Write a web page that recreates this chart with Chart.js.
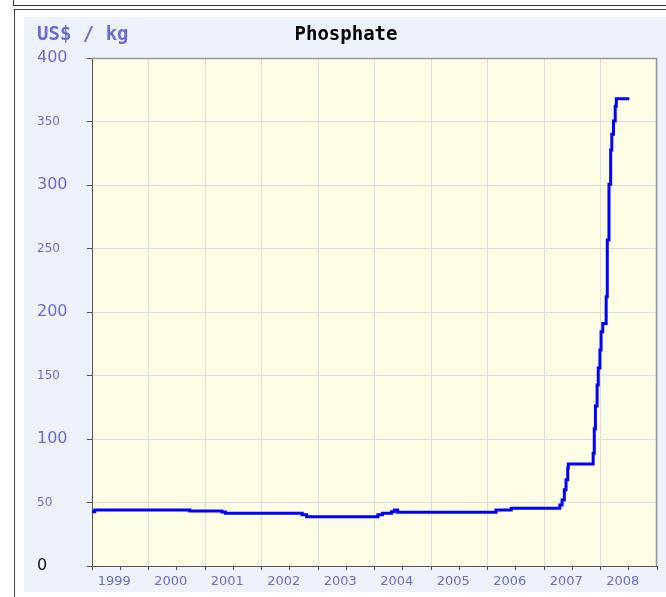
<!DOCTYPE html>
<html><head><meta charset="utf-8">
<script src="https://cdn.jsdelivr.net/npm/chart.js@4"></script>
<style>
html,body{margin:0;padding:0;background:#fff;width:666px;height:597px;overflow:hidden;}
#prev{position:absolute;left:13px;top:-20px;width:720px;height:24px;border:1px solid #333;}
#box{position:absolute;left:14px;top:9px;width:720px;height:700px;border:1px solid #444;}
#wrap{position:absolute;left:24px;top:17px;width:642px;height:575px;background:#EEF2FC;}
canvas{display:block;}
</style></head><body>
<div id="prev"></div><div id="box"></div>
<div id="wrap"><canvas id="c" width="642" height="575"></canvas></div>
<script>
const unitLabel = 'US$ / kg';
const chartTitle = 'Phosphate';
const yearLabels = ['1999','2000','2001','2002','2003','2004','2005','2006','2007','2008'];
const yTickValues = [0,50,100,150,200,250,300,350,400];
// change points (decimal year) and price after change
const dates  = [1999.00,1999.05,2000.73,2001.30,2001.36,2002.72,2002.80,2004.06,2004.14,2004.30,2004.35,2004.41,
                2006.15,2006.42,2007.28,2007.32,2007.36,2007.39,2007.42,2007.43,2007.87,2007.89,2007.91,2007.94,
                2007.96,2007.99,2008.01,2008.04,2008.10,2008.12,2008.15,2008.18,2008.20,2008.23,2008.26,2008.28,2008.51];
const prices = [42.8,44.0,43.3,42.5,41.5,40.4,38.8,40.3,41.5,42.8,44.1,42.4,
                44.1,45.4,48,52,60,68,77,80.3,88.7,108,126,142.5,
                156,170,184.5,191,212,256.7,300.5,327.6,340,350.4,362,368,368];

const AXIS_BLUE = '#6b6bd3';

const framePlugin = {
  id: 'frame',
  beforeDraw(chart) {
    const {ctx, chartArea: a} = chart;
    ctx.save();
    ctx.fillStyle = '#FEFDE6';
    ctx.fillRect(a.left, a.top, a.right - a.left, a.bottom - a.top);
    ctx.restore();
  },
  afterDraw(chart) {
    const {ctx, chartArea: a} = chart;
    ctx.save();
    ctx.strokeStyle = '#999';
    ctx.lineWidth = 1.5;
    ctx.beginPath();
    ctx.moveTo(a.left, a.top + 0.5);
    ctx.lineTo(a.right - 0.5, a.top + 0.5);
    ctx.lineTo(a.right - 0.5, a.bottom);
    ctx.stroke();
    ctx.font = 'bold 19px "DejaVu Sans Mono"';
    ctx.textBaseline = 'middle';
    ctx.textAlign = 'left';
    ctx.fillStyle = AXIS_BLUE;
    ctx.fillText(unitLabel, 13, 18);
    ctx.textAlign = 'center';
    ctx.fillStyle = '#000';
    ctx.fillText(chartTitle, 322, 18);
    ctx.restore();
  }
};

new Chart(document.getElementById('c'), {
  type: 'line',
  data: {
    datasets: [{
      data: dates.map((d, i) => ({x: d, y: prices[i]})),
      stepped: 'before',
      borderColor: '#0000FF',
      borderWidth: 3,
      borderCapStyle: 'butt',
      pointRadius: 0,
      fill: false
    }]
  },
  options: {
    responsive: false,
    animation: false,
    layout: {padding: {left: 13, top: 41, right: 9, bottom: 0}},
    plugins: {legend: {display: false}, tooltip: {enabled: false}, title: {display: false}},
    scales: {
      x: {
        type: 'linear', min: 1999, max: 2009,
        afterBuildTicks: s => {
          const t = [];
          yearLabels.forEach(y => { t.push({value: +y}); t.push({value: +y + 0.5}); });
          t.push({value: 2009});
          s.ticks = t;
        },
        afterFit: s => { s.height = 26; },
        grid: {
          color: c => (c.tick && Number.isInteger(c.tick.value)) ? '#DEDEDE' : 'rgba(0,0,0,0)',
          tickColor: '#555', tickLength: 4
        },
        border: {color: '#555', width: 1},
        ticks: {
          autoSkip: false, maxRotation: 0, minRotation: 0, padding: 4, labelOffset: -6,
          font: {family: 'DejaVu Sans', size: 13}, color: AXIS_BLUE,
          callback: (v, i) => (i % 2 === 1) ? yearLabels[(i - 1) / 2] : ''
        }
      },
      y: {
        min: 0, max: 400,
        afterBuildTicks: s => { s.ticks = yTickValues.map(v => ({value: v})); },
        afterFit: s => { s.width = 55; },
        grid: {color: '#DEDEDE', tickColor: '#555', tickLength: 5},
        border: {color: '#555', width: 1},
        ticks: {
          crossAlign: 'far', padding: 3,
          font: c => ({family: 'DejaVu Sans', size: (c.tick && c.tick.value % 100 === 0) ? 16 : 12}),
          color: c => (c.tick && c.tick.value === 0) ? '#111' : AXIS_BLUE
        }
      }
    }
  },
  plugins: [framePlugin]
});
</script>
</body></html>
